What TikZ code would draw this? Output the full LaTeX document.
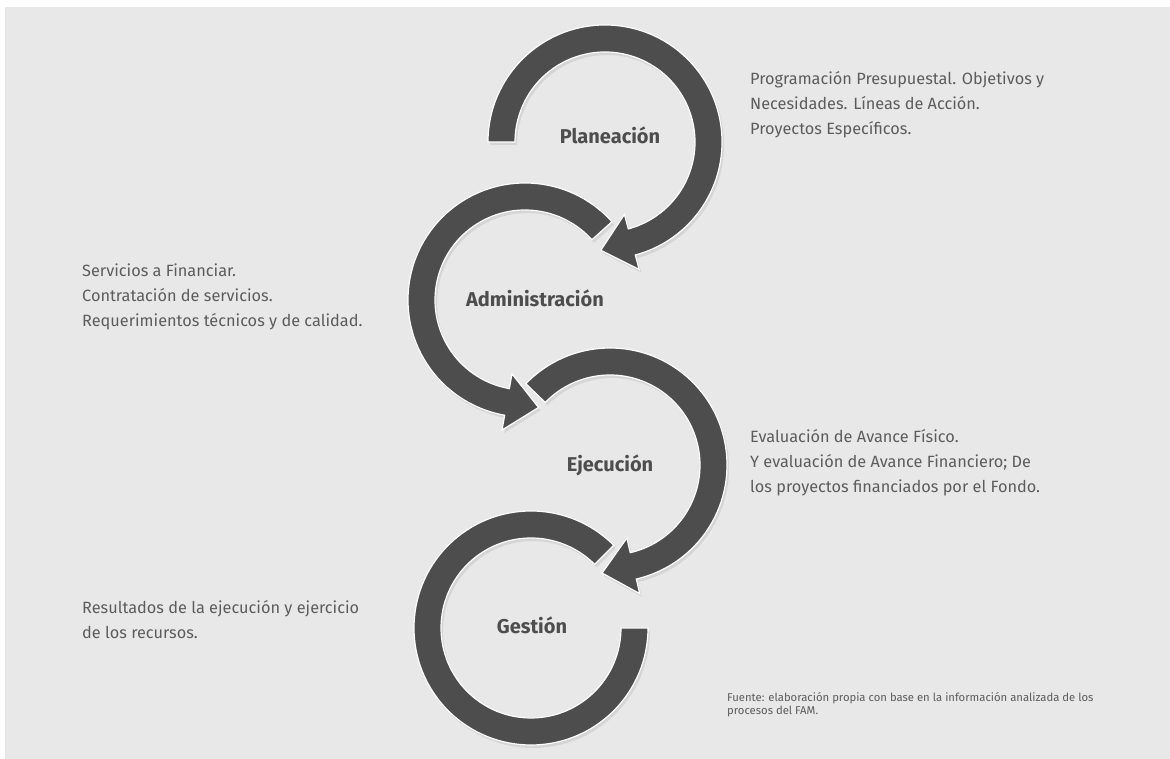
\documentclass[tikz,border=0pt]{standalone}
\usepackage{fontspec}
\setmainfont{Fira Sans}
\usetikzlibrary{calc}
\usetikzlibrary{shadows}
\definecolor{bggray}{HTML}{E8E8E8}
\definecolor{ringgray}{HTML}{4D4D4D}
\definecolor{txtgray}{HTML}{5C5C5C}

\begin{document}
\begin{tikzpicture}[x=1pt, y=1pt,
    ring/.style={fill=ringgray, draw=white, line width=1.2pt,
      drop shadow={opacity=.18, shadow xshift=2pt, shadow yshift=-3pt}},
    stage/.style={font=\fontsize{20}{24}\selectfont\bfseries, text=ringgray, inner sep=0pt},
    desc/.style={font=\fontsize{16.3}{25}\selectfont, text=txtgray, align=left,
      inner sep=0pt, anchor=north west}]
    \useasboundingbox (0,0) rectangle (1170,759);
    \fill[bggray] (5,0) rectangle (1170,752);
    % circle centres
    \coordinate (P) at (605,617);
    \coordinate (A) at (525,459);
    \coordinate (E) at (610,294);
    \coordinate (G) at (531,131);
    % rings
    \draw[ring] ($(P)+(180:117)$) arc[start angle=180, end angle=-75, radius=117]
      -- ($(P)+(-75:132)$) -- ($(P)+(-75:103.5)+(-165:32)$) -- ($(P)+(-75:75)$)
      -- ($(P)+(-75:90)$) arc[start angle=-75, end angle=180, radius=90] -- cycle;
    \draw[ring] ($(A)+(42:117)$) arc[start angle=42, end angle=260, radius=117]
      -- ($(A)+(260:132)$) -- ($(A)+(260:103.5)+(350:32)$) -- ($(A)+(260:75)$)
      -- ($(A)+(260:90)$) arc[start angle=260, end angle=42, radius=90] -- cycle;
    \draw[ring] ($(E)+(136:117)$) arc[start angle=136, end angle=-77, radius=117]
      -- ($(E)+(-77:132)$) -- ($(E)+(-77:103.5)+(-167:32)$) -- ($(E)+(-77:75)$)
      -- ($(E)+(-77:90)$) arc[start angle=-77, end angle=136, radius=90] -- cycle;
    \draw[ring] ($(G)+(45:117)$) arc[start angle=45, end angle=360, radius=117]
      -- ($(G)+(0:90)$) arc[start angle=360, end angle=45, radius=90] -- cycle;
    % stage names
    \node[stage] (planeacion) at (610,624) {Planeación};
    \node[stage] (administracion) at (535,461) {Administración};
    \node[stage] (ejecucion) at (610,294) {Ejecución};
    \node[stage] (gestion) at (532,134) {Gestión};
    % descriptions
    \node[desc] (planText) at (750,688) {Programación Presupuestal. Objetivos y\\
      Necesidades. Líneas de Acción.\\ Proyectos Específicos.};
    \node[desc] (adminText) at (82,495) {Servicios a Financiar.\\
      Contratación de servicios.\\ Requerimientos técnicos y de calidad.};
    \node[desc] (ejecText) at (750,330) {Evaluación de Avance Físico.\\
      Y evaluación de Avance Financiero; De\\ los proyectos financiados por el Fondo.};
    \node[desc] (gestText) at (82,159) {Resultados de la ejecución y ejercicio\\
      de los recursos.};
    \node[desc, font=\fontsize{11.3}{13.5}\selectfont] (fuente) at (727,67)
      {Fuente: elaboración propia con base en la información analizada de los\\
      procesos del FAM.};
  \end{tikzpicture}
\end{document}
